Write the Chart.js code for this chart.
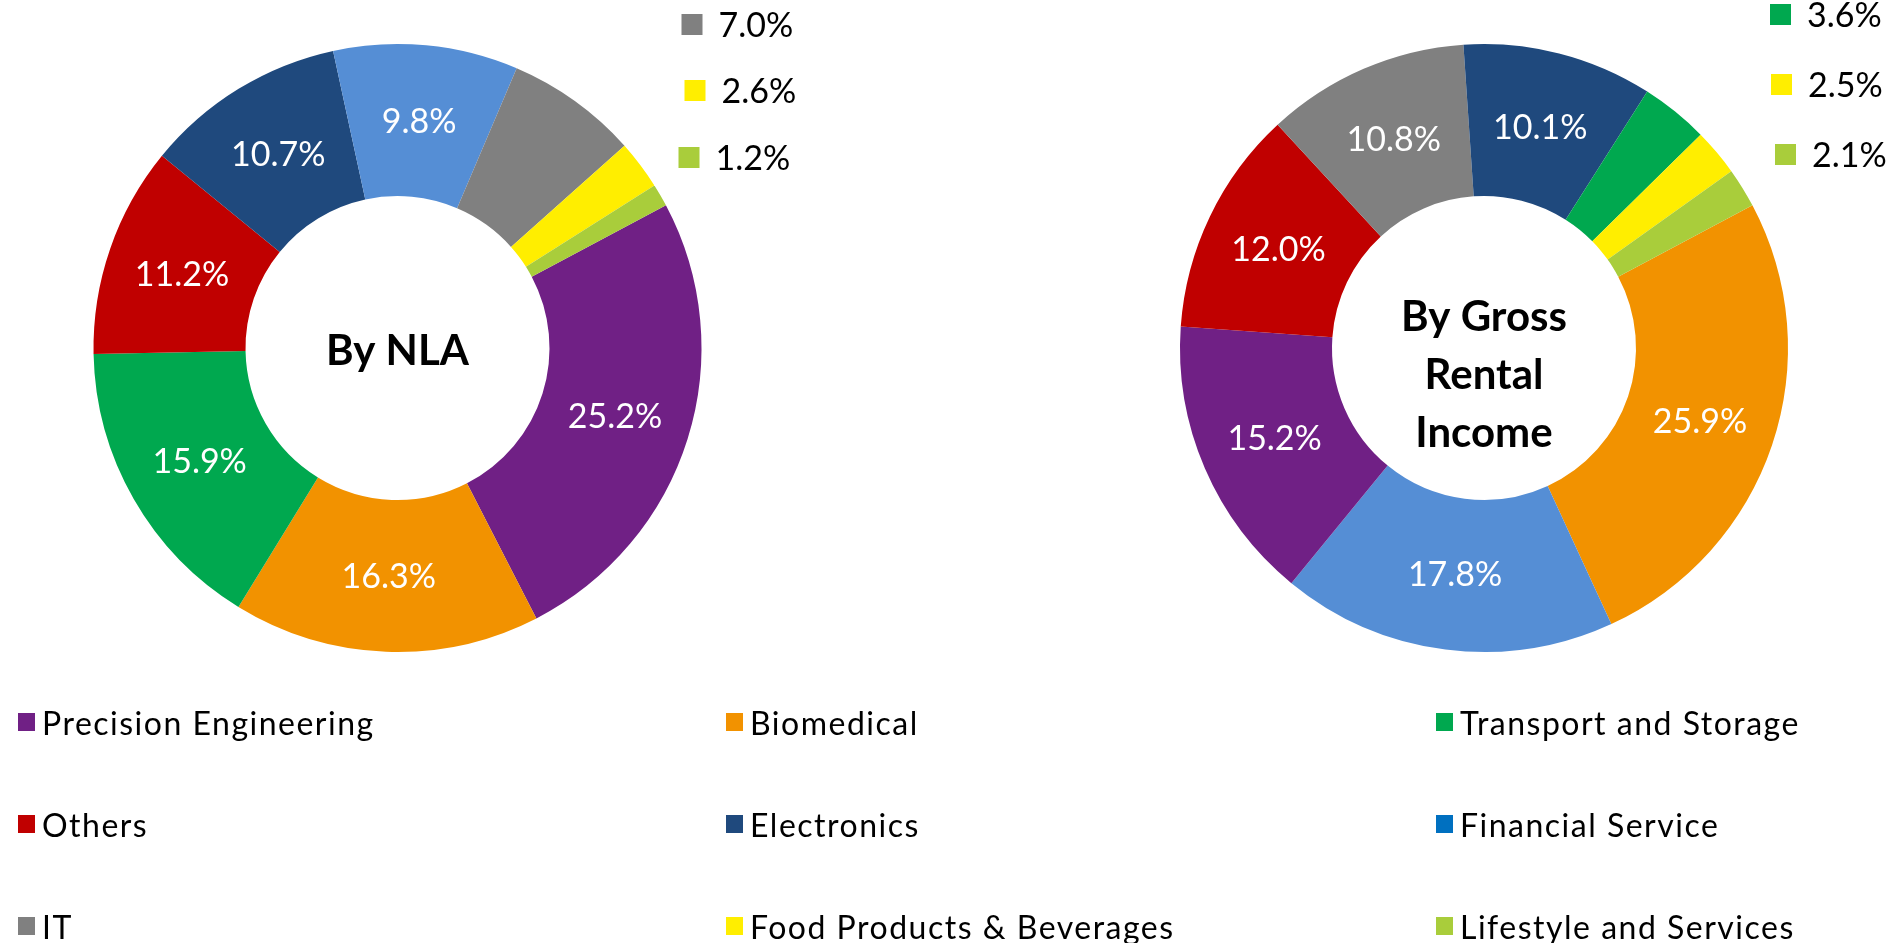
<!DOCTYPE html>
<html>
<head>
<meta charset="utf-8">
<script src="https://cdn.jsdelivr.net/npm/chart.js@4/dist/chart.umd.min.js"></script>
<style>
  body { margin: 0; background: #fff; width: 1900px; height: 943px; overflow: hidden; position: relative; font-family: Lato, sans-serif; }
  canvas { position: absolute; top: 0; }
  #legend { position: absolute; left: 18px; top: 671px; display: grid; grid-template-columns: 708px 710px 460px; grid-auto-rows: 102px; }
  .item { display: flex; align-items: center; font-size: 32px; letter-spacing: 1.5px; color: #000; white-space: nowrap; }
  .item span.box { width: 17px; height: 18px; margin-right: 7px; flex: none; }
</style>
</head>
<body>
<canvas id="nla" width="900" height="696" style="left:0"></canvas>
<canvas id="gri" width="950" height="696" style="left:950px"></canvas>
<div id="legend"></div>
<script>
const categories = ['Precision Engineering', 'Biomedical', 'Transport and Storage', 'Others', 'Electronics',
  'Financial Service', 'IT', 'Food Products & Beverages', 'Lifestyle and Services'];
const nlaLabels = ['Precision Engineering', 'Biomedical', 'Transport and Storage', 'Others', 'Electronics',
  'Financial Service', 'IT', 'Food Products & Beverages', 'Lifestyle and Services'];
const nlaValues = [25.2, 16.3, 15.9, 11.2, 10.7, 9.8, 7.0, 2.6, 1.2];
const griLabels = ['Biomedical', 'Financial Service', 'Precision Engineering', 'Others', 'IT', 'Electronics',
  'Transport and Storage', 'Food Products & Beverages', 'Lifestyle and Services'];
const griValues = [25.9, 17.8, 15.2, 12.0, 10.8, 10.1, 3.6, 2.5, 2.1];

const sliceColors = {
  'Precision Engineering': '#702085',
  'Biomedical': '#F29200',
  'Transport and Storage': '#00A84F',
  'Others': '#C00000',
  'Electronics': '#1F497D',
  'Financial Service': '#558ED5',
  'IT': '#808080',
  'Food Products & Beverages': '#FFEE00',
  'Lifestyle and Services': '#A9CD3B'
};
const legendColors = Object.assign({}, sliceColors, { 'Financial Service': '#0070C0' });

// percent labels inside the ring, small slices as callouts top right
const labelPlugin = {
  id: 'sliceLabels',
  afterDatasetsDraw(chart, args, opts) {
    const ctx = chart.ctx;
    const meta = chart.getDatasetMeta(0);
    const data = chart.data.datasets[0].data;
    const colors = chart.data.datasets[0].backgroundColor;
    ctx.save();
    ctx.font = '34px Lato, sans-serif';
    ctx.textBaseline = 'middle';
    let k = 0;
    meta.data.forEach((arc, i) => {
      const txt = data[i].toFixed(1) + '%';
      if (data[i] >= opts.min) {
        const p = arc.tooltipPosition();
        ctx.fillStyle = '#fff';
        ctx.textAlign = 'center';
        ctx.fillText(txt, p.x, p.y + 1);
      } else {
        const c = opts.callouts[k++];
        const x = arc.x + c.dx, y = arc.y + c.dy;
        ctx.fillStyle = colors[i];
        ctx.fillRect(x, y - 10, 21, 21);
        ctx.fillStyle = '#000';
        ctx.textAlign = 'left';
        ctx.fillText(txt, x + 37, y + 2);
      }
    });
    // centre title
    const arc0 = meta.data[0];
    ctx.font = 'bold 42px Lato, sans-serif';
    ctx.fillStyle = '#000';
    ctx.textAlign = 'center';
    opts.title.forEach((line, j) => {
      ctx.fillText(line, arc0.x, arc0.y + opts.titleY + j * 58);
    });
    ctx.restore();
  }
};

function makeChart(id, labels, values, padding, callouts, title, titleY) {
  return new Chart(document.getElementById(id), {
    type: 'doughnut',
    data: {
      labels: labels,
      datasets: [{
        data: values,
        backgroundColor: labels.map(l => sliceColors[l]),
        borderWidth: 0
      }]
    },
    options: {
      responsive: false,
      animation: false,
      rotation: 62,
      cutout: '50%',
      layout: { padding: padding },
      plugins: {
        legend: { display: false },
        tooltip: { enabled: false },
        sliceLabels: { min: 9, callouts: callouts, title: title, titleY: titleY }
      }
    },
    plugins: [labelPlugin]
  });
}

makeChart('nla', nlaLabels, nlaValues,
  { left: 93, right: 198, top: 44, bottom: 44 },
  [{ dx: 284, dy: -324 }, { dx: 287, dy: -258 }, { dx: 281, dy: -191 }],
  ['By NLA'], 3);

makeChart('gri', griLabels, griValues,
  { left: 230, right: 112, top: 44, bottom: 44 },
  [{ dx: 286, dy: -334 }, { dx: 287, dy: -264 }, { dx: 291, dy: -194 }],
  ['By Gross', 'Rental', 'Income'], -31);

// legend grid, 3 columns
const legend = document.getElementById('legend');
categories.forEach(c => {
  const d = document.createElement('div');
  d.className = 'item';
  d.innerHTML = '<span class="box" style="background:' + legendColors[c] + '"></span>';
  d.appendChild(document.createTextNode(c));
  legend.appendChild(d);
});
</script>
</body>
</html>
